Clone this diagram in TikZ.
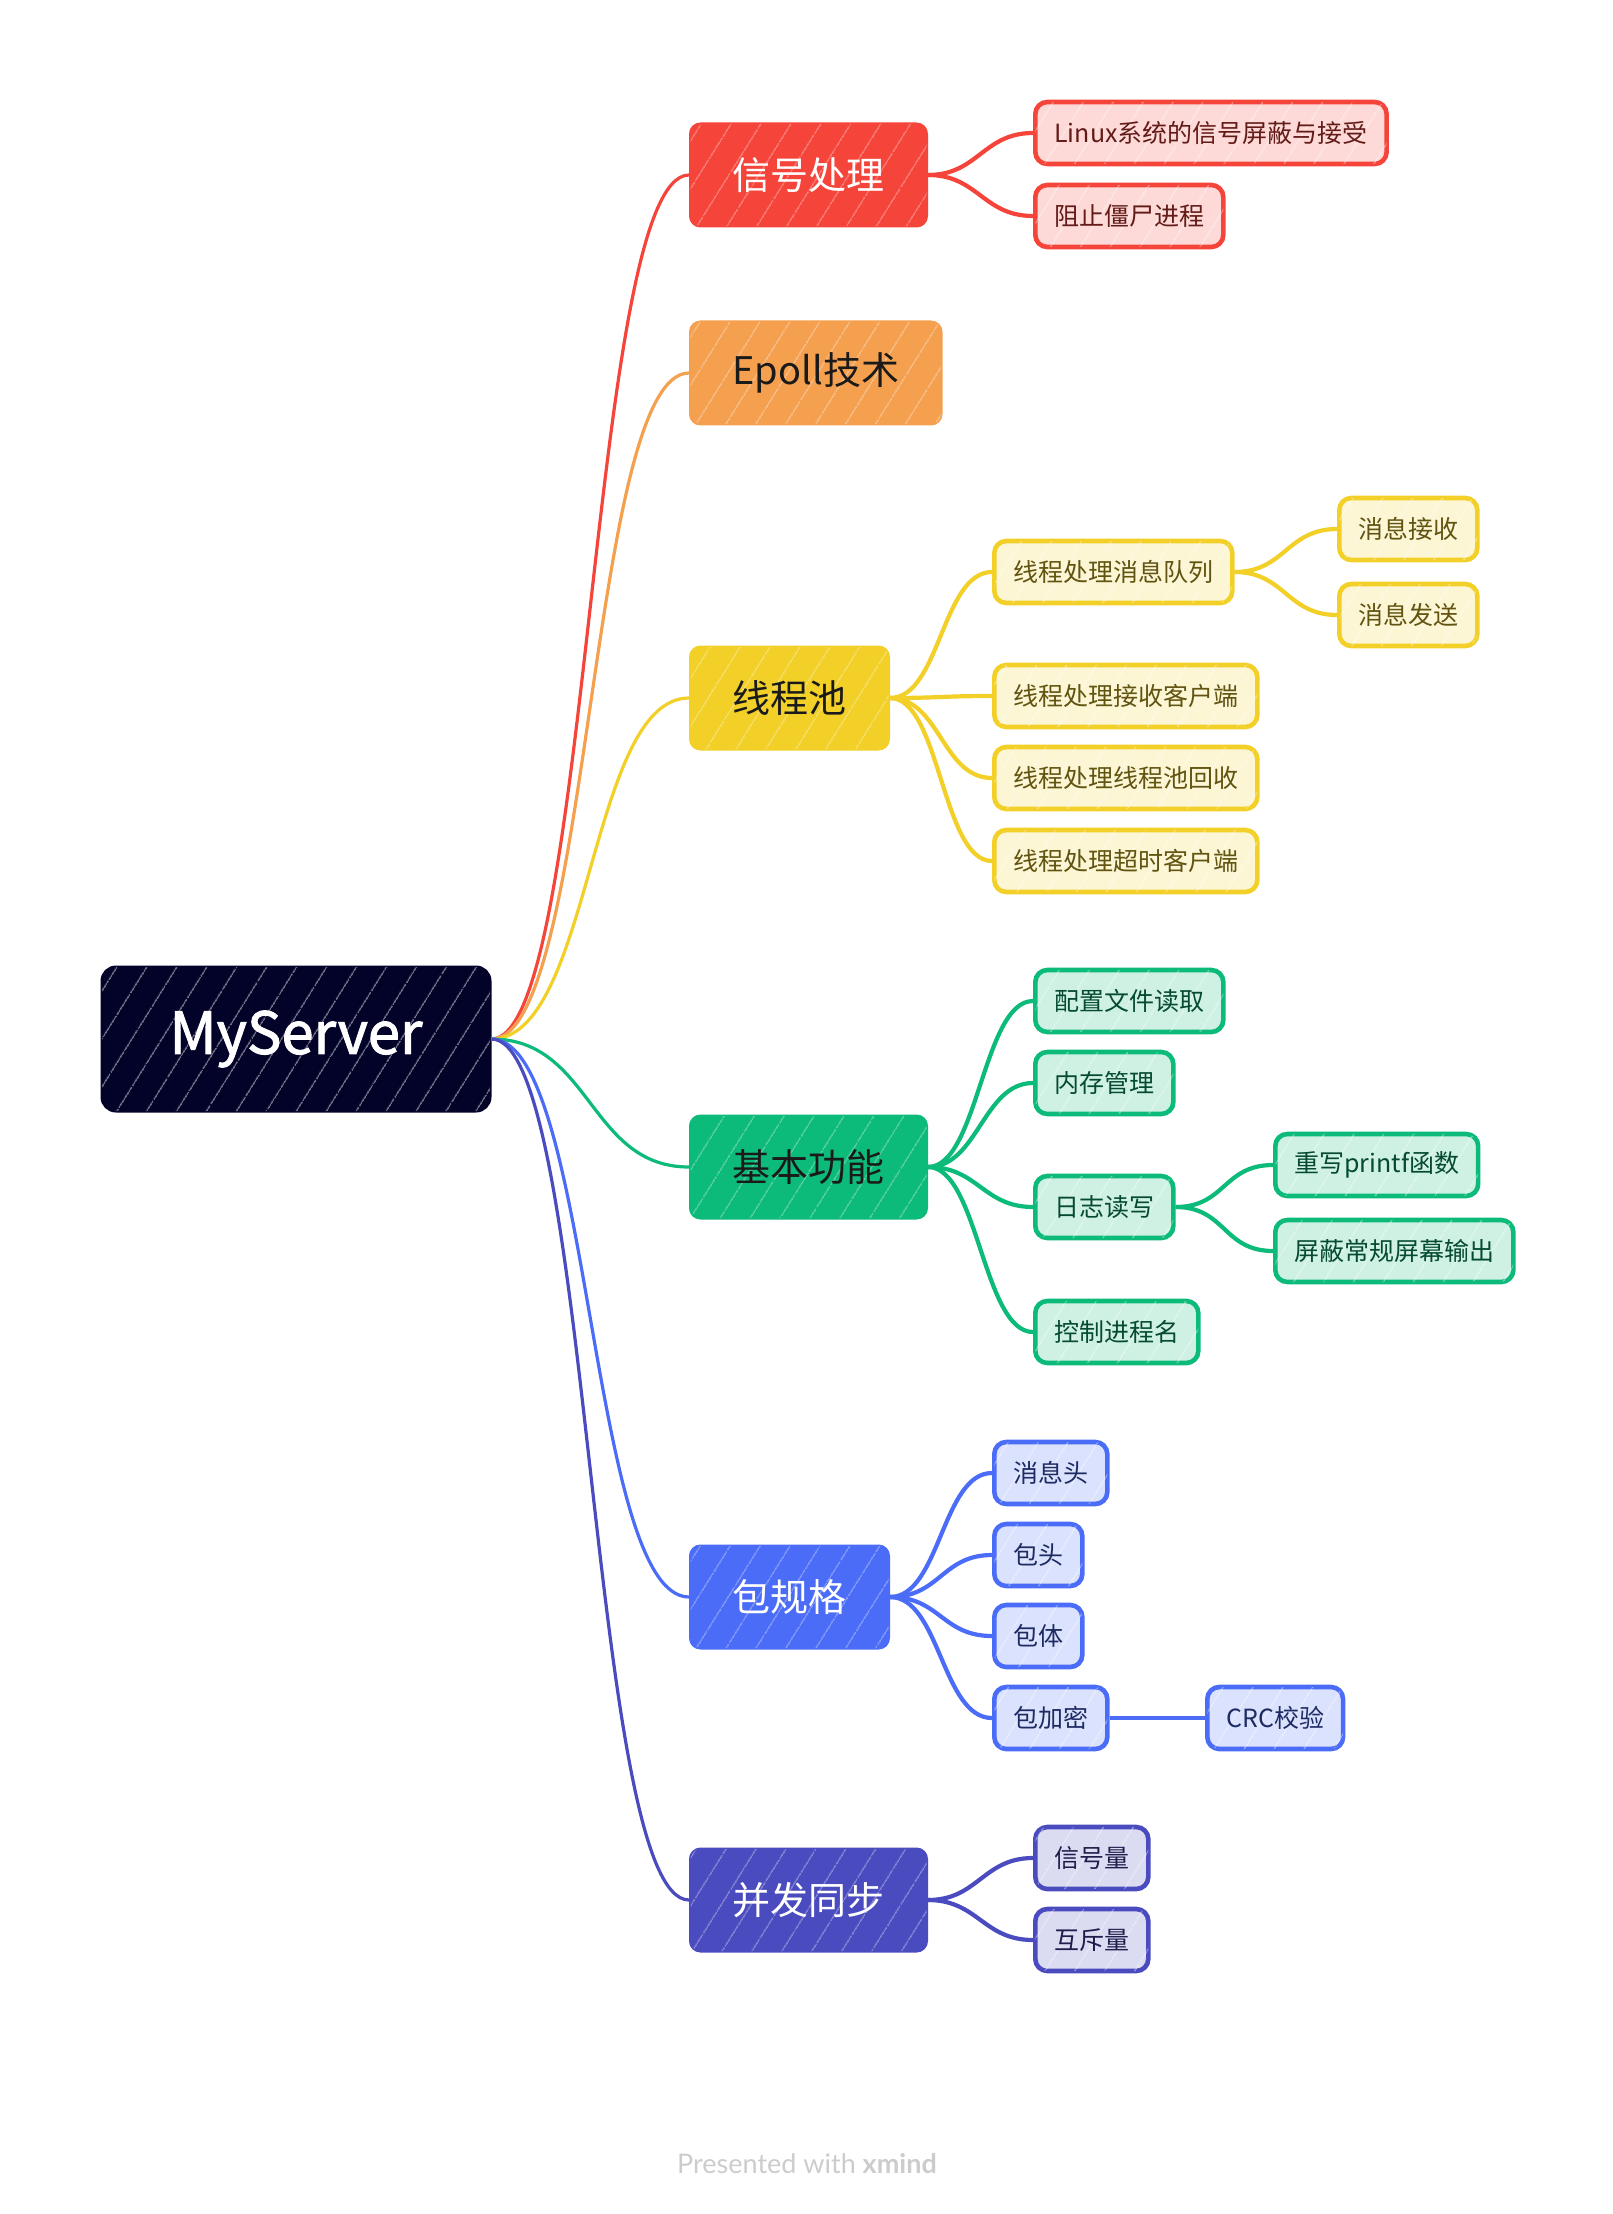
\documentclass[tikz,border=0pt]{standalone}
\usepackage{fontspec}
\setmainfont{Noto Sans CJK SC}
\newfontfamily\rootfont[FakeBold=1.6]{Noto Sans CJK SC}
\newfontfamily\footfont{Lato}
\usetikzlibrary{patterns.meta}
\definecolor{cRoot}{HTML}{03032A}
\definecolor{cRed}{HTML}{F5443A}
\definecolor{cOrange}{HTML}{F5A04F}
\definecolor{cYellow}{HTML}{F2D028}
\definecolor{cGreen}{HTML}{0CBA7A}
\definecolor{cBlue}{HTML}{4A6CF7}
\definecolor{cIndigo}{HTML}{4B4BC0}
\definecolor{cInk}{HTML}{1A1A1A}

\begin{document}
\begin{tikzpicture}[
  x=0.5pt, y=-0.5pt,
  hatch/.style={postaction={fill opacity=#1, pattern={Lines[angle=58,distance=13pt,line width=0.6pt]}, pattern color=white}},
  root/.style={draw=cRoot, fill=cRoot, text=white, rounded corners=7pt, line width=1.5pt,
               minimum width=194pt, minimum height=72pt, font=\rootfont\fontsize{29}{34}\selectfont, hatch=.55},
  topic/.style={draw=#1, fill=#1, rounded corners=5pt, line width=1.5pt, anchor=west,
                minimum height=51pt, inner xsep=21pt, font=\fontsize{19}{23}\selectfont, hatch=.4},
  sub/.style={draw=#1, fill=#1!20, text=#1!40!black, rounded corners=6pt, line width=2.3pt, anchor=west,
              minimum height=31pt, inner xsep=9.5pt, font=\fontsize{12.5}{15}\selectfont, hatch=.45},
  link/.style={draw=#1, line width=1.6pt},
  twig/.style={draw=#1, line width=2.1pt}
]
\fill[white] (0,0) rectangle (1612,2214);
\useasboundingbox (0,0) rectangle (1612,2214);

% centre
\node[root] (root) at (296,1039) {MyServer};

% main topics
\node[topic=cRed, text=white]  (sig)   at (689,175)  {信号处理};
\node[topic=cOrange, text=cInk] (epoll) at (689,373)  {Epoll技术};
\node[topic=cYellow, text=cInk] (pool)  at (689,698)  {线程池};
\node[topic=cGreen, text=cInk]  (base)  at (689,1167) {基本功能};
\node[topic=cBlue, text=white]  (pkt)   at (689,1597) {包规格};
\node[topic=cIndigo, text=white] (sync) at (689,1900) {并发同步};

% signal branch
\node[sub=cRed] (sigmask) at (1033,133) {Linux系统的信号屏蔽与接受};
\node[sub=cRed] (zombie)  at (1033,216) {阻止僵尸进程};

% thread pool branch
\node[sub=cYellow] (mq)      at (992,572)  {线程处理消息队列};
\node[sub=cYellow] (mqrecv)  at (1337,529) {消息接收};
\node[sub=cYellow] (mqsend)  at (1337,615) {消息发送};
\node[sub=cYellow] (accept)  at (992,696)  {线程处理接收客户端};
\node[sub=cYellow] (recycle) at (992,778)  {线程处理线程池回收};
\node[sub=cYellow] (timeout) at (992,861)  {线程处理超时客户端};

% basic branch
\node[sub=cGreen] (conf)   at (1033,1001) {配置文件读取};
\node[sub=cGreen] (mem)    at (1033,1083) {内存管理};
\node[sub=cGreen] (log)    at (1033,1207) {日志读写};
\node[sub=cGreen] (printf) at (1273,1165) {重写printf函数};
\node[sub=cGreen] (mute)   at (1273,1251) {屏蔽常规屏幕输出};
\node[sub=cGreen] (pname)  at (1033,1332) {控制进程名};

% packet branch
\node[sub=cBlue] (msghead) at (992,1473)  {消息头};
\node[sub=cBlue] (phead)   at (992,1555)  {包头};
\node[sub=cBlue] (pbody)   at (992,1636)  {包体};
\node[sub=cBlue] (penc)    at (992,1718)  {包加密};
\node[sub=cBlue] (crc)     at (1205,1718) {CRC校验};

% sync branch
\node[sub=cIndigo] (sem)   at (1033,1858) {信号量};
\node[sub=cIndigo] (mutex) at (1033,1940) {互斥量};

% centre to topics
\draw[link=cRed]    (root.east) .. controls +(100,0) and +(-100,0) .. (sig.west);
\draw[link=cOrange] (root.east) .. controls +(100,0) and +(-100,0) .. (epoll.west);
\draw[link=cYellow] (root.east) .. controls +(100,0) and +(-100,0) .. (pool.west);
\draw[link=cGreen]  (root.east) .. controls +(100,0) and +(-100,0) .. (base.west);
\draw[link=cBlue]   (root.east) .. controls +(100,0) and +(-100,0) .. (pkt.west);
\draw[link=cIndigo] (root.east) .. controls +(100,0) and +(-100,0) .. (sync.west);

% topics to subtopics
\foreach \a/\b in {sig/sigmask, sig/zombie}
  \draw[twig=cRed] (\a.east) .. controls +(50,0) and +(-50,0) .. (\b.west);
\foreach \a/\b in {pool/mq, pool/accept, pool/recycle, pool/timeout, mq/mqrecv, mq/mqsend}
  \draw[twig=cYellow] (\a.east) .. controls +(50,0) and +(-50,0) .. (\b.west);
\foreach \a/\b in {base/conf, base/mem, base/log, base/pname, log/printf, log/mute}
  \draw[twig=cGreen] (\a.east) .. controls +(50,0) and +(-50,0) .. (\b.west);
\foreach \a/\b in {pkt/msghead, pkt/phead, pkt/pbody, pkt/penc, penc/crc}
  \draw[twig=cBlue] (\a.east) .. controls +(50,0) and +(-50,0) .. (\b.west);
\foreach \a/\b in {sync/sem, sync/mutex}
  \draw[twig=cIndigo] (\a.east) .. controls +(50,0) and +(-50,0) .. (\b.west);

\node[font=\footfont\fontsize{13.5}{16}\selectfont, text=black!20] (credit) at (807,2164)
  {Presented with {\bfseries xmind}};
\end{tikzpicture}
\end{document}
